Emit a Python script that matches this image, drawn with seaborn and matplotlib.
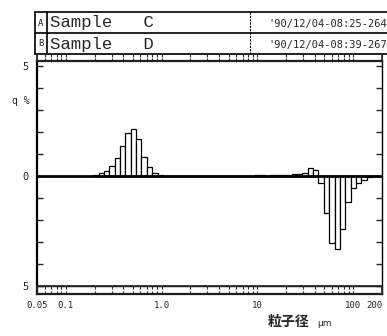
import numpy as np
import pandas as pd
import matplotlib
matplotlib.use("Agg")
import matplotlib.pyplot as plt
import seaborn as sns

# ---------------- data ----------------
# particle size class edges (um)
class_edges_um = [0.1932, 0.2198, 0.2500, 0.2844, 0.3236, 0.3681, 0.4188, 0.4764,
                  0.5420, 0.6166, 0.7015, 0.7980, 0.9078, 1.033, 1.175, 1.337,
                  1.521, 1.730, 1.968, 2.239, 2.547, 2.897, 3.296, 3.750, 4.266,
                  4.853, 5.521, 6.281, 7.145, 8.128, 9.247, 10.52, 11.97, 13.61,
                  15.49, 17.62, 20.04, 22.80, 25.94, 29.51, 33.57, 38.19, 43.45,
                  49.43, 56.23, 63.97, 72.78, 82.79, 94.19, 107.2, 121.9, 138.7,
                  157.8, 179.5]
# q % per class (Sample C drawn upward, Sample D drawn downward)
sample_c = [0.05, 0.15, 0.22, 0.45, 0.83, 1.36, 1.94, 2.15, 1.70, 0.88, 0.42, 0.15, 0.05,
            0, 0, 0, 0, 0, 0, 0, 0, 0, 0, 0, 0, 0, 0, 0, 0, 0,
            0.04, 0.04, 0, 0.05, 0.05, 0.03, 0.04, 0.08, 0.08, 0.12, 0.35, 0.26,
            0, 0, 0, 0, 0, 0, 0, 0, 0, 0, 0]
sample_d = [0, 0, 0, 0, 0, 0, 0, 0, 0, 0, 0, 0, 0, 0, 0, 0, 0, 0, 0, 0, 0, 0, 0, 0, 0,
            0, 0, 0, 0, 0, 0, 0, 0, 0, 0, 0, 0, 0, 0, 0, 0, 0,
            0.30, 1.70, 3.06, 3.33, 2.40, 1.20, 0.53, 0.30, 0.18, 0.05, 0]
row_tags = ["A", "B"]
sample_names = ["Sample C", "Sample D"]
timestamps = ["'90/12/04-08:25-264", "'90/12/04-08:39-267"]
x_ticks = [0.05, 0.1, 1, 10, 100, 200]
x_tick_labels = ["0.05", "0.1", "1.0", "10", "100", "200"]
y_ticks = [-5, -4, -3, -2, -1, 0, 1, 2, 3, 4, 5]
y_tick_labels = ["5", "", "", "", "", "0", "", "", "", "", "5"]
y_label = "q %"
x_label = "粒子径"
x_unit = "μm"

# ---------------- figure ----------------
sns.set_style("white")
plt.rcParams['font.family'] = ['DejaVu Sans Mono', 'Noto Sans CJK JP']

W, H = 387, 336
fig = plt.figure(figsize=(W / 100, H / 100), dpi=100)
fig.patch.set_facecolor("white")

def frac(x0, y0, x1, y1):
    return [x0 / W, 1 - y1 / H, (x1 - x0) / W, (y1 - y0) / H]

ax = fig.add_axes(frac(37, 61, 382, 294))
ax.set_xscale("log")

edges = np.array(class_edges_um)
centers = np.sqrt(edges[:-1] * edges[1:])
df = pd.DataFrame({"size": centers,
                   "C": np.array(sample_c, float),
                   "D": -np.array(sample_d, float)})

bar_kw = dict(bins=list(np.log10(edges)), element="bars", fill=True, color="white",
              edgecolor="black", linewidth=0.9, alpha=1, ax=ax, legend=False)
sns.histplot(data=df, x="size", weights="C", **bar_kw)
sns.histplot(data=df, x="size", weights="D", **bar_kw)

ax.axhline(0, color="black", lw=2.0, zorder=5)
ax.axhline(-5, color="black", lw=1.0, zorder=5)

ax.set_xlim(0.05, 200)
ax.set_ylim(-5.364, 5.227)
ax.set_xticks(x_ticks)
ax.set_xticklabels(x_tick_labels)
ax.xaxis.set_minor_locator(matplotlib.ticker.NullLocator())
ax.tick_params(axis="x", length=0, pad=5, labelsize=6.5)
xt = ax.get_xticklabels()
xt[-1].set_horizontalalignment("right")
ax.set_yticks(y_ticks)
ax.set_yticklabels(y_tick_labels)
ax.tick_params(axis="y", direction="in", length=4, width=1, left=True, right=True,
               labelsize=7.5, pad=6)
ax.set_xlabel("")
ax.set_ylabel("")
for s in ["left", "top", "bottom"]:
    ax.spines[s].set_linewidth(1.6)
ax.spines["right"].set_linewidth(1.0)
for s in ax.spines.values():
    s.set_color("black")

# ruler strips
for (y0, y1) in [(54, 61), (286, 294)]:
    st = fig.add_axes(frac(37, y0, 382, y1))
    st.set_xscale("log")
    st.set_xlim(0.05, 200)
    st.set_ylim(0, 1)
    st.patch.set_alpha(0)
    st.set_yticks([])
    st.set_xticks(x_ticks)
    st.set_xticklabels([])
    st.tick_params(axis="x", which="both", direction="in", top=True, bottom=True,
                   length=2.5, width=0.8)
    for s in st.spines.values():
        s.set_linewidth(1.2)

# overlay for header and labels (pixel coordinates)
ov = fig.add_axes([0, 0, 1, 1], zorder=-1)
ov.set_xlim(0, W)
ov.set_ylim(H, 0)
ov.axis("off")

lk = dict(color="black", lw=1.2)
ov.plot([35, 400], [12, 12], **lk)
ov.plot([35, 400], [33, 33], **lk)
ov.plot([35, 400], [54, 54], **lk)
ov.plot([35, 35], [12, 54], **lk)
ov.plot([47, 47], [12, 54], **lk)
ov.plot([250, 250], [12, 54], color="black", lw=0.8, ls=(0, (2, 1)))
for i, (tag, name, ts) in enumerate(zip(row_tags, sample_names, timestamps)):
    yc = 23 + 21 * i
    ov.text(41, yc, tag, fontsize=6.5, ha="center", va="center", family="DejaVu Sans Mono")
    ov.text(50, yc, name.replace(" ", "   "), fontsize=12.5, ha="left", va="center",
            family="Liberation Mono")
    ov.text(268, yc + 1, ts, fontsize=7.5, ha="left", va="center", family="DejaVu Sans Mono")

ov.text(21, 101, y_label, fontsize=7, ha="center", va="center", family="DejaVu Sans Mono")
ov.text(289, 322, x_label, fontsize=10, ha="center", va="center",
        family=["Noto Sans CJK JP", "DejaVu Sans"], fontweight="bold")
ov.text(325, 323, x_unit, fontsize=6.5, ha="center", va="center", family="DejaVu Sans")

fig.savefig("out.png", dpi=100)
